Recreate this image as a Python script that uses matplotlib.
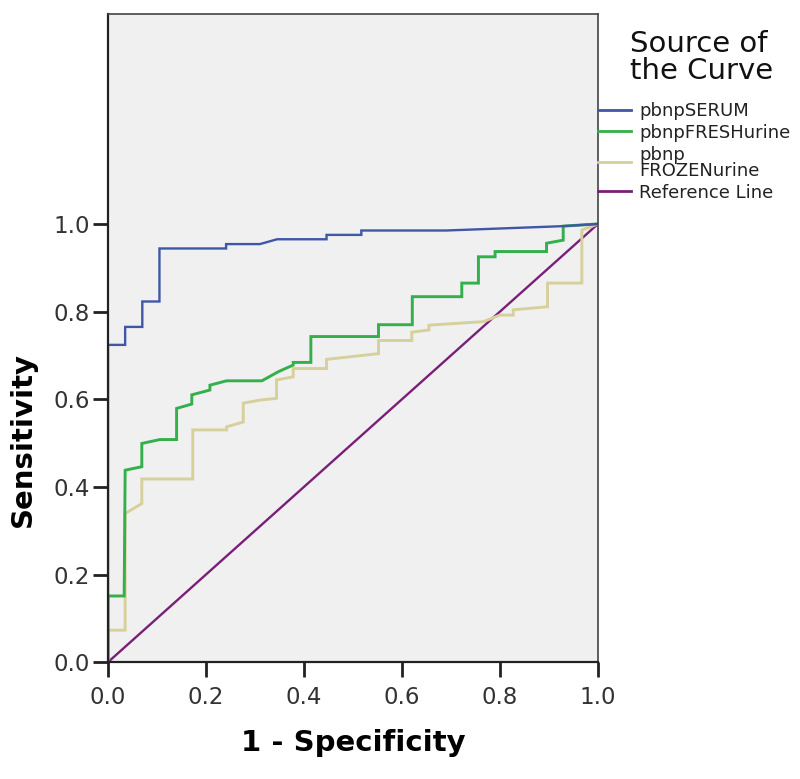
import matplotlib
matplotlib.use('Agg')
import matplotlib.pyplot as plt
from matplotlib.lines import Line2D

# curvas ROC (1 - especificidade, sensibilidade)
serum_x = [0, 0, 0.035, 0.035, 0.07, 0.07, 0.105, 0.105, 0.241, 0.241, 0.31, 0.345,
           0.446, 0.446, 0.517, 0.517, 0.69, 0.93, 1.0]
serum_y = [0, 0.724, 0.724, 0.765, 0.765, 0.823, 0.823, 0.944, 0.944, 0.954, 0.954, 0.965,
           0.965, 0.975, 0.975, 0.985, 0.985, 0.995, 1.0]

fresh_x = [0, 0, 0.033, 0.035, 0.069, 0.069, 0.106, 0.140, 0.140, 0.171, 0.171, 0.208, 0.208,
           0.242, 0.314, 0.348, 0.378, 0.378, 0.414, 0.414, 0.552, 0.552, 0.621, 0.621,
           0.722, 0.722, 0.756, 0.756, 0.790, 0.790, 0.895, 0.895, 0.929, 0.929, 1.0]
fresh_y = [0, 0.151, 0.151, 0.438, 0.446, 0.499, 0.508, 0.508, 0.579, 0.589, 0.610, 0.621, 0.632,
           0.642, 0.642, 0.663, 0.678, 0.684, 0.684, 0.743, 0.743, 0.770, 0.770, 0.834,
           0.834, 0.865, 0.865, 0.925, 0.925, 0.937, 0.937, 0.956, 0.963, 0.995, 1.0]

frozen_x = [0, 0, 0.035, 0.035, 0.069, 0.069, 0.173, 0.173, 0.242, 0.242, 0.276, 0.276, 0.310,
            0.344, 0.344, 0.378, 0.378, 0.446, 0.446, 0.552, 0.552, 0.620, 0.620, 0.655, 0.655,
            0.766, 0.80, 0.827, 0.827, 0.897, 0.897, 0.967, 0.967, 1.0]
frozen_y = [0, 0.073, 0.073, 0.339, 0.362, 0.418, 0.418, 0.530, 0.530, 0.537, 0.548, 0.591, 0.598,
            0.602, 0.644, 0.651, 0.670, 0.670, 0.691, 0.704, 0.734, 0.734, 0.753, 0.758, 0.769,
            0.777, 0.792, 0.792, 0.804, 0.811, 0.865, 0.865, 0.986, 1.0]

ref_x = [0, 1]
ref_y = [0, 1]

nomes = ['pbnpSERUM', 'pbnpFRESHurine', 'pbnp\nFROZENurine', 'Reference Line']
cores = ['#4056a6', '#33b04a', '#d6d09c', '#7a1f78']
larguras = [1.7, 2.1, 2.1, 1.7]

fig = plt.figure(figsize=(8, 7.79), dpi=100)
ax = fig.add_axes([0.135, 0.150, 0.6125, 0.832])
ax.set_facecolor('#f0f0f0')

series = [(serum_x, serum_y), (fresh_x, fresh_y), (frozen_x, frozen_y), (ref_x, ref_y)]
# desenha a referencia primeiro e as curvas por cima
ordem = [3, 2, 1, 0]
for i in ordem:
    xs, ys = series[i]
    ax.plot(xs, ys, color=cores[i], lw=larguras[i], solid_joinstyle='miter')

ax.set_xlim(0, 1)
ax.set_ylim(0, 1.479)
ticks = [0.0, 0.2, 0.4, 0.6, 0.8, 1.0]
ax.set_xticks(ticks)
ax.set_yticks(ticks)
ax.set_xticklabels([f'{t:.1f}' for t in ticks])
ax.set_yticklabels([f'{t:.1f}' for t in ticks])
ax.tick_params(axis='both', direction='out', length=11, width=2, colors='#222222',
               labelsize=16.5, labelcolor='#333333')
ax.tick_params(axis='y', pad=2)
ax.tick_params(axis='x', pad=6)

for lado in ['left', 'bottom']:
    ax.spines[lado].set_linewidth(1.6)
    ax.spines[lado].set_color('#222222')
for lado in ['top', 'right']:
    ax.spines[lado].set_linewidth(1.2)
    ax.spines[lado].set_color('#444444')

ax.set_xlabel('1 - Specificity', fontsize=21, fontweight='bold')
ax.set_ylabel('Sensitivity', fontsize=21, fontweight='bold')
ax.xaxis.set_label_coords(0.5, -0.103)
ax.yaxis.set_label_coords(-0.145, 0.343)

# legenda desenhada a mao, no estilo do SPSS
W, H = 800, 779
fig.text(630 / W, 1 - 30 / H, 'Source of\nthe Curve', fontsize=21, va='top', ha='left',
         linespacing=0.95, color='#111111')
linhas_y = [109.5, 130.5, 162, 191]
textos_y = [116.5, 138.5, 176.5, 198.5]
for nome, cor, ly, ty in zip(nomes, cores, linhas_y, textos_y):
    fig.add_artist(Line2D([598 / W, 631 / W], [1 - ly / H, 1 - ly / H], color=cor, lw=2))
    fig.text(639 / W, 1 - ty / H, nome, fontsize=13, va='baseline', ha='left',
             linespacing=0.9, color='#222222')

fig.savefig('out.png', dpi=100)
